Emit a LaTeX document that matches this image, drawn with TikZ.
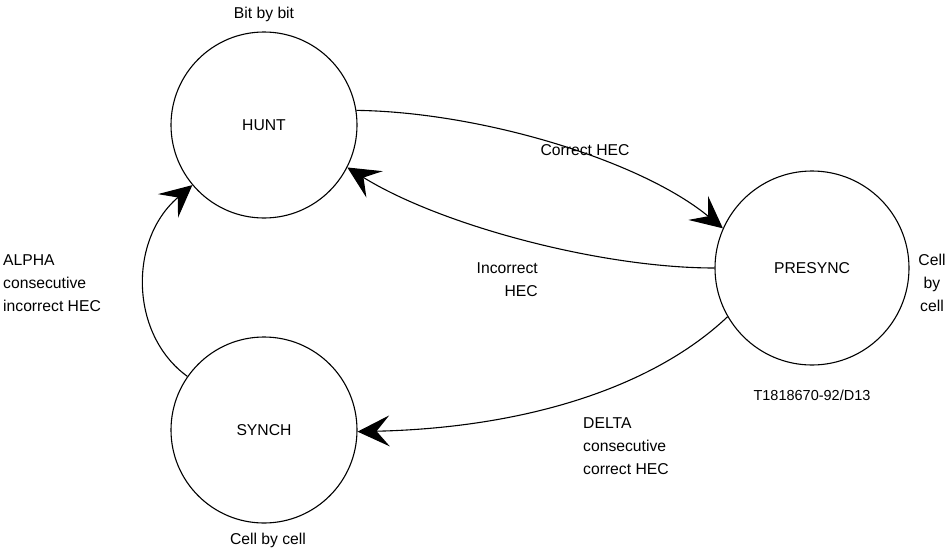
\documentclass[tikz,border=0pt]{standalone}
\usepackage{fontspec}
\setmainfont{Liberation Sans}
\usetikzlibrary{arrows.meta}
\begin{document}
\begin{tikzpicture}[x=1pt,y=-1pt,
  state/.style={circle,draw,line width=1.1pt,minimum size=186pt,inner sep=0pt},
  lbl/.style={inner sep=0pt,font=\fontsize{15.7}{23}\selectfont},
  conn/.style={line width=1.1pt,-{Stealth[length=32pt,width=31pt,inset=13pt]}}]
\useasboundingbox (0,0) rectangle (945,549);
\node[state,lbl] (hunt) at (264,125) {HUNT};
\node[state,lbl] (synch) at (264,430) {SYNCH};
\node[state,lbl,minimum size=194pt] (presync) at (812,268) {PRESYNC};
\node[lbl] (l1) at (264,14) {Bit by bit};
\node[lbl] (l2) at (585,150) {Correct HEC};
\node[lbl,align=right,anchor=east] (l3) at (538,280) {Incorrect\\HEC};
\node[lbl,align=center] (l4) at (932,283) {Cell\\by\\cell};
\node[lbl,align=left,anchor=west] (l5) at (3,283) {ALPHA\\consecutive\\incorrect HEC};
\node[lbl,font=\fontsize{14.5}{17}\selectfont] (l6) at (812,395) {T1818670-92/D13};
\node[lbl,align=left,anchor=west] (l7) at (583,446) {DELTA\\consecutive\\correct HEC};
\node[lbl] (l8) at (268,540) {Cell by cell};
\draw[conn] (hunt.9) .. controls (480,112) and (640,160) .. (presync.156);
\draw[conn] (presync.180) .. controls (600,268) and (440,225) .. (hunt.-27);
\draw[conn] (presync.-150) .. controls (650,390) and (520,428) .. (synch.-1);
\draw[conn] (synch.145) .. controls (130,335) and (128,240) .. (hunt.-140);
\end{tikzpicture}
\end{document}
